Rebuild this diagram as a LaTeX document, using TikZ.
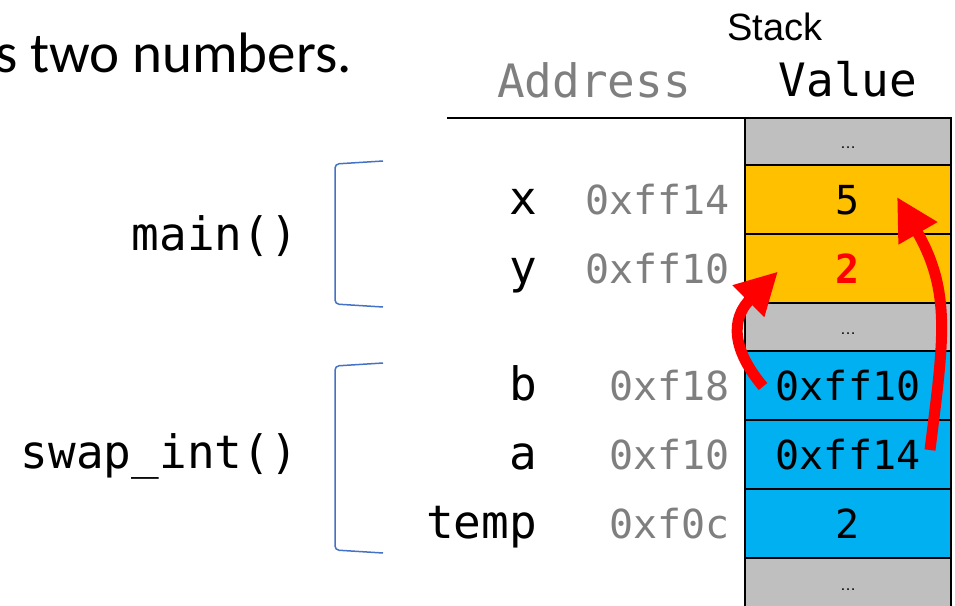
\documentclass[tikz,border=0pt]{standalone}
\usepackage{fontspec}
\setmainfont{Carlito}
\setmonofont{DejaVu Sans Mono}
\newfontfamily\arialfont{Liberation Sans}
\usepackage{xcolor}
\usepackage{tikz}
\usetikzlibrary{calc,positioning,arrows.meta}
\definecolor{stkorange}{HTML}{FFC000}
\definecolor{stkblue}{HTML}{00B0F0}
\definecolor{stkgray}{HTML}{BFBFBF}
\definecolor{addrgray}{HTML}{7F7F7F}
\definecolor{brkblue}{HTML}{4472C4}
\tikzset{
  cell/.style={rectangle, draw=black, line width=2pt, minimum width=206pt, minimum height=69pt, inner sep=0pt, outer sep=0pt, font=\ttfamily\fontsize{40}{44}\selectfont, text height=29pt, text depth=0pt},
  cell_o/.style={cell, fill=stkorange},
  cell_b/.style={cell, fill=stkblue},
  cell_g/.style={cell, fill=stkgray, font=\arialfont\fontsize{16}{18}\selectfont, text height=14pt},
  var_n/.style={inner sep=0pt, font=\ttfamily\fontsize{46}{50}\selectfont, text height=30pt, text depth=0pt},
  addr_n/.style={inner sep=0pt, addrgray, font=\ttfamily\fontsize{40}{44}\selectfont, text height=29pt, text depth=0pt},
  func_n/.style={inner sep=0pt, font=\ttfamily\fontsize{46}{50}\selectfont},
  frame_brk/.style={brkblue, line width=1.5pt, rounded corners=4pt},
  swap_arr/.style={red, line width=11pt, -{Triangle[length=42pt,width=42pt]}}
}
\begin{document}
\begin{tikzpicture}[x=1pt,y=-1pt]
  \useasboundingbox (0,0) rectangle (955,605);
  \node[anchor=base east, inner sep=0pt, font=\fontsize{57}{60}\selectfont] (title) at (352,72) {s two numbers.};
  % stack column
  \node[cell_g, minimum height=47pt] (g1) at (848,141.5) {…};
  \node[cell_o, below=0pt of g1] (vx) {5};
  \node[cell_o, below=0pt of vx] (vy) {\textbf{\color{red}2}};
  \node[cell_g, minimum height=48pt, below=0pt of vy] (g2) {…};
  \node[cell_b, below=0pt of g2] (vb) {0xff10};
  \node[cell_b, below=0pt of vb] (va) {0xff14};
  \node[cell_b, below=0pt of va] (vt) {2};
  \node[cell_g, minimum height=50pt, below=0pt of vt] (g3) {…};
  % headers
  \node[font=\arialfont\fontsize{38}{40}\selectfont, inner sep=0pt, anchor=base] (hstack) at (775,40) {Stack};
  \node[var_n, above=21pt of g1] (hval) {Value};
  \node[var_n, addrgray, anchor=base] (haddr) at (594,97) {Address};
  \coordinate (hl) at (447,118);
  \draw[line width=2pt] (hl) -- (g1.north west);
  % addresses and names
  \node[addr_n, left=15pt of vx] (ax) {0xff14};
  \node[addr_n, left=15pt of vy] (ay) {0xff10};
  \node[addr_n, left=15pt of vb] (ab) {0xf18};
  \node[addr_n, left=15pt of va] (aa) {0xf10};
  \node[addr_n, left=15pt of vt] (at) {0xf0c};
  \node[var_n, left=208pt of vx] (nx) {x};
  \node[var_n, left=208pt of vy] (ny) {y};
  \node[var_n, left=208pt of vb] (nb) {b};
  \node[var_n, left=208pt of va] (na) {a};
  \node[var_n, left=208pt of vt] (nt) {temp};
  % frames
  \node[func_n, anchor=base east] (fmain) at (298,250) {main()};
  \node[func_n, anchor=base east] (fswap) at (298,468) {swap\_int()};
  \draw[frame_brk] (383,161) -- (335,164) -- (335,304) -- (383,307);
  \draw[frame_brk] (383,363) -- (335,366) -- (335,550) -- (383,553);
  % pointers
  \draw[swap_arr] ($(vb.west)+(18,1)$) to[out=130, in=225, looseness=1.3] ($(vy.west)+(33,3)$);
  \draw[swap_arr] ($(va.east)+(-21,-4.5)$) to[out=83, in=300, looseness=1.1] ($(vx.east)+(-54,-2.5)$);
\end{tikzpicture}
\end{document}
